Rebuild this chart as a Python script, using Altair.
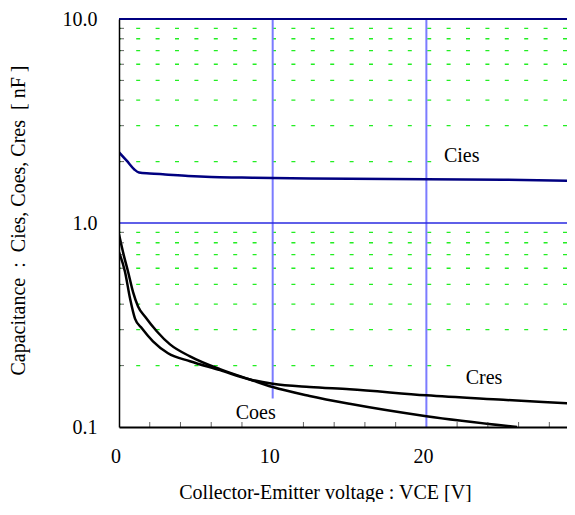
import altair as alt
import pandas as pd

# ---- data ----
cies_x = [0, 0.5, 1.0, 1.3, 2, 3, 4.5, 6, 8, 10, 15, 20, 25, 29.6]
cies_y = [2.22, 2.02, 1.83, 1.77, 1.75, 1.73, 1.70, 1.68, 1.67, 1.66, 1.65, 1.64, 1.63, 1.61]

coes_x = [0, 0.3, 0.59, 0.91, 1.24, 1.69, 2.47, 3.32, 4.62, 6.57, 8.52, 10, 12.4, 15, 20, 25.9]
coes_y = [0.88, 0.70, 0.577, 0.46, 0.39, 0.348, 0.294, 0.254, 0.222, 0.192, 0.171, 0.157, 0.142, 0.130, 0.113, 0.100]

cres_x = [0, 0.39, 0.72, 1.04, 1.5, 2.21, 3.19, 4.62, 6.57, 8.52, 10, 12.4, 15, 20, 25, 29.6]
cres_y = [0.72, 0.577, 0.426, 0.34, 0.304, 0.263, 0.23, 0.210, 0.190, 0.171, 0.163, 0.157, 0.153, 0.143, 0.136, 0.130]

label_text = ["Cies", "Cres", "Coes"]
label_x = [22.3, 23.75, 8.9]
label_y = [1.985, 0.162, 0.1094]

# white text-box extents behind labels
box_x1 = [20.7, 22.1, 7.2]
box_x2 = [29.2, 29.2, 10.8]
box_y1 = [2.63, 0.248, 0.138]
box_y2 = [1.77, 0.147, 0.1]

x_major = [0, 10, 20]
x_minor = [2, 4, 6, 8, 12, 14, 16, 18, 22, 24, 26, 28]
y_major = [0.1, 1, 10]
y_minor = [0.2, 0.3, 0.4, 0.5, 0.6, 0.7, 0.8, 0.9, 2, 3, 4, 5, 6, 7, 8, 9]
x_grid = [10, 20]

W, H = 448, 408
FONT = "Liberation Serif"
FS = 20

xscale = alt.Scale(domain=[0, 29.15], nice=False, zero=False)
yscale = alt.Scale(type="log", domain=[0.1, 10], nice=False)

xaxis = alt.Axis(values=x_major, format="d", grid=False, ticks=False, tickSize=0,
                 domainColor="black", domainWidth=2, labelFont=FONT, labelFontSize=FS,
                 labelColor="black", labelPadding=35, labelBaseline="alphabetic",
                 labelOffset=-3.5, labelFlush=False,
                 title="Collector-Emitter voltage : VCE [V]", titleFont=FONT,
                 titleFontSize=FS, titleFontWeight="normal", titleColor="black",
                 titleX=206, titleY=71, titleBaseline="alphabetic", titleAlign="center",
                 zindex=1)
yaxis = alt.Axis(values=y_major, format=".1f", grid=False, ticks=False, tickSize=0,
                 domainColor="black", domainWidth=1.5, labelFont=FONT, labelFontSize=FS,
                 labelColor="black", labelPadding=22, labelFlush=False,
                 title="Capacitance\u00a0 :\u00a0 Cies, Coes, Cres\u00a0 [ nF ]",
                 titleFont=FONT, titleFontSize=FS, titleFontWeight="normal",
                 titleColor="black", titleX=-101, titleY=201, titleAngle=270,
                 titleBaseline="middle", titleAlign="center", zindex=1)


def X(f):
    return alt.X(f, type="quantitative", scale=xscale, axis=xaxis)


def Y(f):
    return alt.Y(f, type="quantitative", scale=yscale, axis=yaxis)


lines_df = pd.concat([
    pd.DataFrame({"x": cies_x, "y": cies_y, "s": "Cies"}),
    pd.DataFrame({"x": coes_x, "y": coes_y, "s": "Coes"}),
    pd.DataFrame({"x": cres_x, "y": cres_y, "s": "Cres"}),
])
labels_df = pd.DataFrame({"t": label_text, "x": label_x, "y": label_y})
boxes_df = pd.DataFrame({"x1": box_x1, "x2": box_x2, "y1": box_y1, "y2": box_y2})
yminor_df = pd.DataFrame({"y": y_minor})
xminor_df = pd.DataFrame({"x": x_minor})
xgrid_df = pd.DataFrame({"x": x_grid})
one_df = pd.DataFrame({"y": [1]})
top_df = pd.DataFrame({"y": [10]})

green = alt.Chart(yminor_df).mark_rule(color="#22ee22", strokeWidth=1.3,
                                       strokeDash=[4, 15.4]).encode(y=Y("y"))
vgrid = alt.Chart(xgrid_df).mark_rule(color="#7b7bff", strokeWidth=2).encode(x=X("x"))
hone = alt.Chart(one_df).mark_rule(color="#2a2ae0", strokeWidth=1.3).encode(y=Y("y"))
boxes = alt.Chart(boxes_df).mark_rect(color="white", clip=True).encode(
    x=X("x1"), x2="x2", y=Y("y1"), y2="y2")
top = alt.Chart(top_df).mark_rule(color="#000080", strokeWidth=2).encode(y=Y("y"))
lines = alt.Chart(lines_df).mark_line(strokeWidth=2.5, interpolate="monotone", clip=True).encode(
    x=X("x"), y=Y("y"),
    color=alt.Color("s:N", scale=alt.Scale(domain=["Cies", "Coes", "Cres"],
                                           range=["#000080", "black", "black"]), legend=None),
    detail="s:N")
yticks = alt.Chart(yminor_df).mark_tick(orient="horizontal", size=5, thickness=1,
                                        color="#222222").encode(y=Y("y"), x=alt.value(2.5))
xticks = alt.Chart(xminor_df).mark_tick(orient="vertical", size=5, thickness=1,
                                        color="#222222").encode(x=X("x"), y=alt.value(H - 2.5))
texts = alt.Chart(labels_df).mark_text(font=FONT, fontSize=FS, color="black",
                                       baseline="alphabetic", align="center").encode(
    x=X("x"), y=Y("y"), text="t:N")

chart = alt.layer(green, vgrid, hone, boxes, top, lines, yticks, xticks, texts).properties(
    width=W, height=H,
    padding={"left": 111, "top": 11, "right": 0, "bottom": 75},
    autosize=alt.AutoSizeParams(type="none"),
).configure_view(stroke=None)

chart.save("out.html", embed_options={"renderer": "svg", "actions": False})
